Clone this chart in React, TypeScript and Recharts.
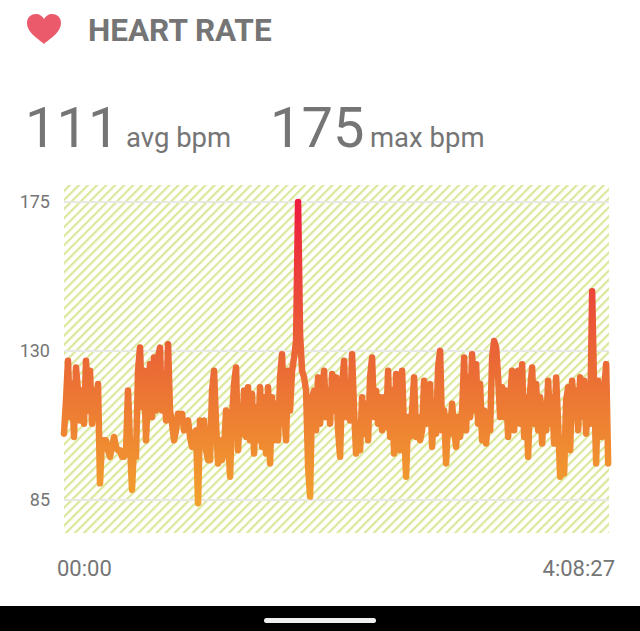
import { LineChart, Line, XAxis, YAxis, CartesianGrid } from 'recharts'

const sampleMinutes = 0.912
// bpm per sample left to right
const bpm = [
  105, 115, 127, 110, 120, 104, 125, 118, 109, 118,
  108, 127, 112, 124, 108, 118, 110, 120, 90, 103,
  103, 103, 100, 98, 101, 104, 101, 100, 100, 98,
  98, 100, 118, 102, 88, 102, 98, 124, 131, 113,
  124, 103, 119, 126, 110, 128, 112, 128, 131, 112,
  122, 109, 132, 112, 108, 103, 106, 111, 110, 111,
  106, 108, 109, 104, 101, 105, 106, 84, 109, 106,
  109, 100, 97, 97, 118, 124, 108, 96, 103, 97,
  100, 112, 104, 92, 110, 120, 125, 100, 113, 105,
  118, 104, 119, 103, 117, 99, 113, 103, 119, 101,
  116, 99, 119, 96, 116, 103, 114, 103, 122, 129,
  112, 103, 124, 112, 124, 128, 133, 175, 135, 124,
  122, 118, 95, 86, 116, 118, 106, 122, 108, 118,
  124, 110, 118, 108, 123, 112, 122, 106, 98, 120,
  127, 110, 118, 109, 129, 112, 99, 108, 100, 116,
  105, 114, 103, 122, 128, 110, 118, 108, 116, 106,
  116, 107, 124, 104, 118, 99, 123, 104, 100, 124,
  106, 92, 110, 104, 112, 122, 104, 110, 103, 106,
  121, 108, 118, 120, 101, 113, 105, 125, 130, 106,
  112, 96, 110, 105, 114, 106, 101, 110, 104, 112,
  128, 106, 122, 110, 129, 112, 126, 108, 120, 103,
  112, 102, 111, 106, 128, 133, 131, 122, 110, 119,
  110, 118, 104, 116, 124, 106, 118, 124, 108, 126,
  104, 116, 98, 118, 125, 108, 120, 106, 116, 102,
  114, 106, 121, 108, 116, 102, 122, 108, 92, 93,
  93, 115, 119, 100, 121, 110, 118, 106, 122, 110,
  121, 105, 116, 108, 148, 118, 96, 121, 108, 104,
  118, 126, 96,
]
const bpmTicks = [85, 130, 175]
const timeTicks = [0, 248.45]
const timeLabels = ['00:00', '4:08:27']

const data = bpm.map((value, i) => ({ minute: i * sampleMinutes, bpm: value }))

const gray = '#757575'
const font = 'Roboto, sans-serif'

function TimeTick({ x, y, index }: any) {
  const first = index === 0
  return (
    <text
      x={first ? x - 7 : x + 6}
      y={y}
      textAnchor={first ? 'start' : 'end'}
      fontFamily={font}
      fontSize={22}
      fill={gray}
    >
      {timeLabels[index]}
    </text>
  )
}

export default function App() {
  return (
    <div style={{ position: 'absolute', left: 0, top: 0, width: 640, height: 631, background: '#fff', overflow: 'hidden', fontFamily: font, color: gray }}>
      <svg width={36} height={32} viewBox="0 0 36 32" style={{ position: 'absolute', left: 26, top: 13 }}>
        <path
          d="M18 31 C14 27 1 20 1 10 C1 4 5.5 1 10 1 C13.5 1 16.5 3 18 6 C19.5 3 22.5 1 26 1 C30.5 1 35 4 35 10 C35 20 22 27 18 31 Z"
          fill="#ea5a6b"
        />
      </svg>
      <div style={{ position: 'absolute', left: 88, top: 12, fontSize: 31.5, fontWeight: 700, lineHeight: '37px', whiteSpace: 'nowrap' }}>HEART RATE</div>

      <div style={{ position: 'absolute', left: 25, top: 95, fontSize: 56, fontWeight: 400, lineHeight: '66px' }}>111</div>
      <div style={{ position: 'absolute', left: 126, top: 122, fontSize: 27.5, fontWeight: 400, lineHeight: '32px', whiteSpace: 'nowrap' }}>avg bpm</div>
      <div style={{ position: 'absolute', left: 270, top: 95, fontSize: 56, fontWeight: 400, lineHeight: '66px' }}>175</div>
      <div style={{ position: 'absolute', left: 370, top: 122, fontSize: 27.5, fontWeight: 400, lineHeight: '32px', whiteSpace: 'nowrap' }}>max bpm</div>

      <div style={{ position: 'absolute', left: 0, top: 0 }}>
        <LineChart width={640} height={606} data={data} margin={{ top: 185, right: 31, bottom: 0, left: 0 }}>
          <defs>
            <pattern id="hatch" patternUnits="userSpaceOnUse" width={6.4} height={6.4} patternTransform="rotate(45)">
              <rect x={0} y={0} width={2.2} height={6.4} fill="#dbe79a" />
            </pattern>
            <linearGradient id="hrStroke" x1="0" y1="0" x2="0" y2="1">
              <stop offset="0%" stopColor="#ee1c3f" />
              <stop offset="50%" stopColor="#ea6536" />
              <stop offset="100%" stopColor="#f2a12e" />
            </linearGradient>
          </defs>
          <CartesianGrid vertical={false} stroke="#e8e8e4" strokeWidth={2} fill="url(#hatch)" horizontalValues={bpmTicks} />
          <XAxis
            dataKey="minute"
            type="number"
            domain={[0, 248.45]}
            ticks={timeTicks}
            height={73}
            axisLine={false}
            tickLine={false}
            interval={0}
            tick={<TimeTick />}
            tickMargin={37}
          />
          <YAxis
            type="number"
            domain={[75, 180.1]}
            ticks={bpmTicks}
            width={64}
            axisLine={false}
            tickLine={false}
            tickMargin={8}
            interval={0}
            tick={{ fontFamily: font, fontSize: 18, fill: gray }}
          />
          <Line
            type="linear"
            dataKey="bpm"
            stroke="url(#hrStroke)"
            strokeWidth={6.5}
            strokeLinejoin="round"
            strokeLinecap="round"
            dot={false}
            isAnimationActive={false}
          />
        </LineChart>
      </div>

      <div style={{ position: 'absolute', left: 0, top: 606, width: 640, height: 25, background: '#000' }} />
      <div style={{ position: 'absolute', left: 264, top: 618, width: 112, height: 5, borderRadius: 3, background: '#f0f0f0' }} />
    </div>
  )
}
